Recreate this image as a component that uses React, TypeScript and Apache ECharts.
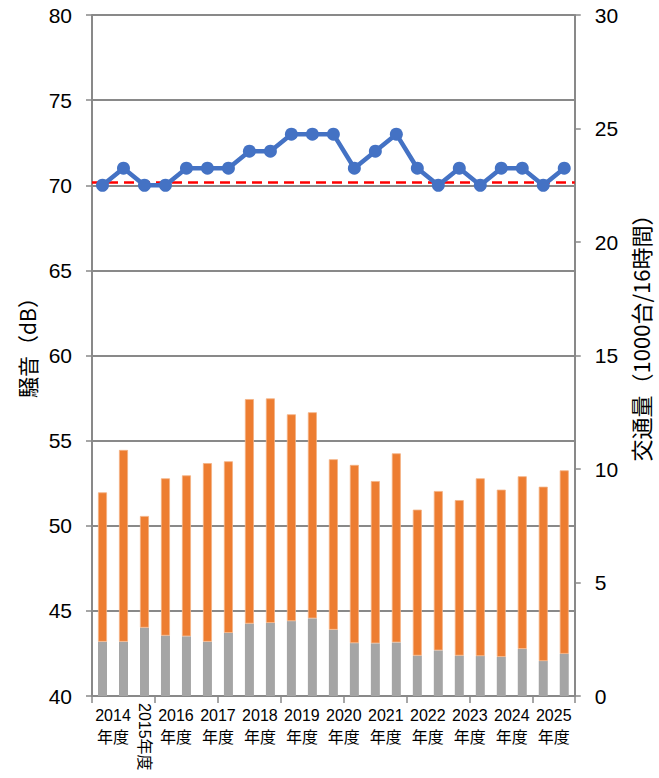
import React, { useEffect, useRef } from "react";
import * as echarts from "echarts";

const categories = [
  "2014-1", "2014-2", "2015", "2016-1", "2016-2", "2017-1", "2017-2", "2018-1", "2018-2",
  "2019-1", "2019-2", "2020-1", "2020-2", "2021-1", "2021-2", "2022-1", "2022-2",
  "2023-1", "2023-2", "2024-1", "2024-2", "2025-1", "2025-2",
];
const noise = [70, 71, 70, 70, 71, 71, 71, 72, 72, 73, 73, 73, 71, 72, 73, 71, 70, 71, 70, 71, 71, 70, 71];
const trafficGray = [2.39, 2.39, 3.01, 2.66, 2.63, 2.39, 2.78, 3.19, 3.22, 3.3, 3.42, 2.92, 2.33, 2.32, 2.36, 1.78, 2.01, 1.78, 1.76, 1.72, 2.07, 1.54, 1.86];
const trafficTotal = [8.97, 10.84, 7.93, 9.59, 9.72, 10.26, 10.34, 13.08, 13.11, 12.41, 12.5, 10.43, 10.18, 9.47, 10.69, 8.21, 9.03, 8.63, 9.59, 9.09, 9.68, 9.22, 9.94];
const trafficOrange = trafficTotal.map((t, i) => +(t - trafficGray[i]).toFixed(2));
const limitValue = 70.2;
// label slots: 47 half-step points along the x axis
const yearLabels = [
  "", "", "2014\n年度", "", "", "", "", "", "2016\n年度", "", "", "", "2017\n年度", "", "", "",
  "2018\n年度", "", "", "", "2019\n年度", "", "", "", "2020\n年度", "", "", "", "2021\n年度", "", "", "",
  "2022\n年度", "", "", "", "2023\n年度", "", "", "", "2024\n年度", "", "", "", "2025\n年度", "", "",
];
const rotatedLabels = yearLabels.map((_, i) => (i === 5 ? "2015年度" : ""));

const FONT = "'Liberation Sans', 'Noto Sans CJK JP', sans-serif";
const CJK = "'Noto Sans CJK JP', sans-serif";
const AXIS_GRAY = "#898989";

export default function App() {
  const ref = useRef<HTMLDivElement>(null);
  useEffect(() => {
    const chart = echarts.init(ref.current!, null, { renderer: "svg" });
    chart.setOption({
      animation: false,
      grid: { left: 92, right: 77, top: 15, bottom: 82 },
      xAxis: [
        {
          type: "category",
          data: categories,
          axisLine: { lineStyle: { color: AXIS_GRAY, width: 2 } },
          axisTick: { show: true, length: 7, lineStyle: { color: AXIS_GRAY, width: 1.5 } },
          axisLabel: { show: false },
        },
        {
          type: "category",
          data: yearLabels,
          boundaryGap: false,
          position: "bottom",
          axisLine: { show: false },
          axisTick: { show: false },
          axisLabel: {
            interval: 0,
            margin: 8,
            color: "#000",
            fontSize: 16,
            lineHeight: 22,
            fontFamily: FONT,
          },
        },
        {
          type: "category",
          data: rotatedLabels,
          boundaryGap: false,
          position: "bottom",
          axisLine: { show: false },
          axisTick: { show: false },
          axisLabel: {
            interval: 0,
            rotate: -90,
            margin: 7,
            color: "#000",
            fontSize: 16,
            fontFamily: FONT,
          },
        },
      ],
      yAxis: [
        {
          type: "value",
          min: 40,
          max: 80,
          interval: 5,
          name: "騒音（dB）",
          nameLocation: "middle",
          nameRotate: 90,
          nameGap: 50,
          nameTextStyle: { color: "#000", fontSize: 21, fontFamily: CJK, padding: [0, 0, 0, 26] },
          axisLine: { show: true, lineStyle: { color: AXIS_GRAY, width: 2 } },
          axisTick: { show: true, inside: false, length: 6, lineStyle: { color: AXIS_GRAY, width: 1.5 } },
          axisLabel: { margin: 20, color: "#000", fontSize: 21, fontFamily: FONT },
          splitLine: { show: true, lineStyle: { color: AXIS_GRAY, width: 2 } },
        },
        {
          type: "value",
          min: 0,
          max: 30,
          interval: 5,
          position: "right",
          name: "交通量（1000台/16時間）",
          nameLocation: "middle",
          nameRotate: 90,
          nameGap: 53,
          nameTextStyle: { color: "#000", fontSize: 22, fontFamily: CJK, padding: [0, 0, 0, 46] },
          axisLine: { show: true, lineStyle: { color: AXIS_GRAY, width: 2 } },
          axisTick: { show: true, inside: false, length: 6, lineStyle: { color: AXIS_GRAY, width: 1.5 } },
          axisLabel: { margin: 20, color: "#000", fontSize: 21, fontFamily: FONT },
          splitLine: { show: false },
        },
      ],
      series: [
        {
          type: "bar",
          name: "gray",
          xAxisIndex: 0,
          yAxisIndex: 1,
          stack: "traffic",
          barWidth: 9,
          data: trafficGray,
          itemStyle: { color: "#A5A5A5" },
        },
        {
          type: "bar",
          name: "orange",
          xAxisIndex: 0,
          yAxisIndex: 1,
          stack: "traffic",
          barWidth: 9,
          data: trafficOrange,
          itemStyle: { color: "#ED7D31", borderColor: "#F4B183", borderWidth: 0.8 },
        },
        {
          type: "line",
          name: "noise",
          xAxisIndex: 0,
          yAxisIndex: 0,
          data: noise,
          z: 5,
          symbol: "circle",
          symbolSize: 13,
          lineStyle: { color: "#4472C4", width: 4.5 },
          itemStyle: { color: "#4472C4" },
          markLine: {
            silent: true,
            symbol: "none",
            label: { show: false },
            lineStyle: { color: "#FF0000", width: 2.5, type: [10, 6] },
            data: [{ yAxis: limitValue }],
          },
        },
      ],
    });
    return () => chart.dispose();
  }, []);
  return (
    <div
      ref={ref}
      style={{ position: "fixed", left: 0, top: 0, width: 659, height: 778, background: "#fff" }}
    />
  );
}
